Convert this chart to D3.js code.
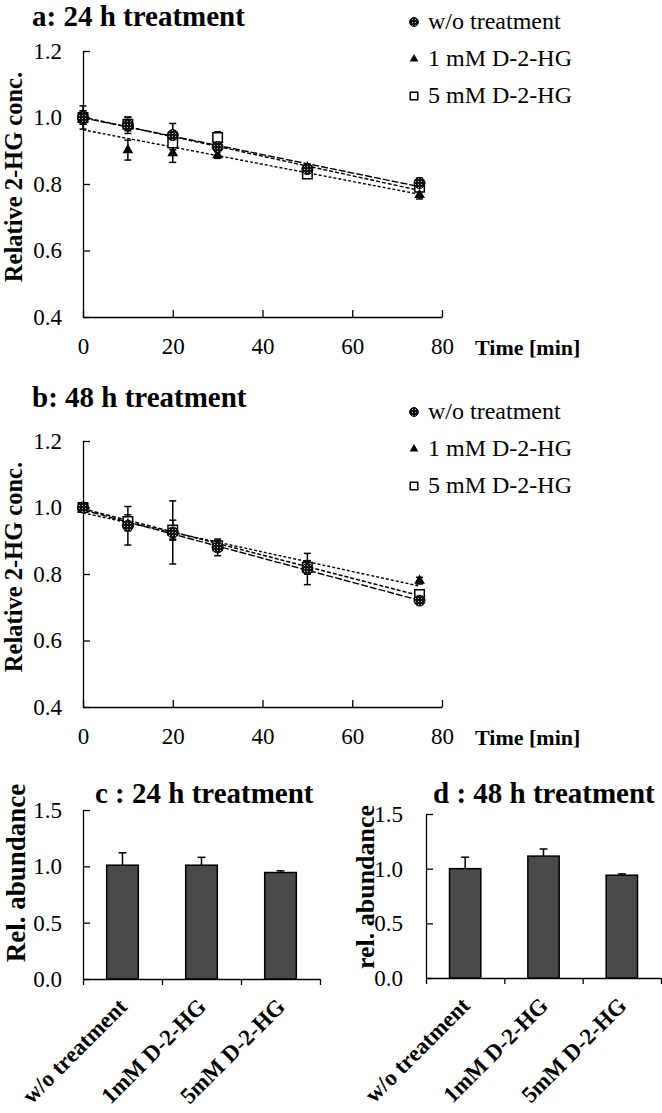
<!DOCTYPE html>
<html>
<head>
<meta charset="utf-8">
<script src="https://cdn.jsdelivr.net/npm/d3@7"></script>
<style>
  body { margin: 0; background: #fff; }
  text { font-family: "Liberation Serif", "Times New Roman", serif; fill: #000; }
</style>
</head>
<body>
<div id="chart"></div>
<script>
// sampling times (min)
const times = [0, 10, 20, 30, 50, 75]
const seriesNames = ['w/o treatment', '1 mM D-2-HG', '5 mM D-2-HG']
const xTicks = [0, 20, 40, 60, 80]
const yTicks = [0.4, 0.6, 0.8, 1.0, 1.2]

// a: 24 h treatment
const aWo = [1.0, 0.977, 0.947, 0.911, 0.845, 0.803]
const aWoErr = [0.035, 0.025, 0.035, 0.01, 0.01, 0.015]
const a1mM = [1.0, 0.902, 0.893, 0.887, 0.85, 0.767]
const a1mMErr = [0.02, 0.03, 0.028, 0.01, 0.01, 0.012]
const a5mM = [1.0, 0.98, 0.923, 0.94, 0.83, 0.79]
const a5mMErr = [0.02, 0.02, 0.02, 0.017, 0.008, 0.012]

// b: 48 h treatment
const bWo = [1.0, 0.945, 0.925, 0.88, 0.815, 0.72]
const bWoErr = [0.01, 0.058, 0.095, 0.025, 0.047, 0.01]
const b1mM = [1.0, 0.95, 0.925, 0.885, 0.82, 0.78]
const b1mMErr = [0.01, 0.02, 0.02, 0.015, 0.02, 0.01]
const b5mM = [1.0, 0.958, 0.932, 0.885, 0.82, 0.738]
const b5mMErr = [0.01, 0.02, 0.03, 0.015, 0.02, 0.01]

// c / d: relative abundance
const barCats = ['w/o treatment', '1mM D-2-HG', '5mM D-2-HG']
const barTicks = [0, 0.5, 1.0, 1.5]
const cVals = [1.01, 1.01, 0.945]
const cErr = [0.11, 0.07, 0.015]
const dVals = [1.0, 1.115, 0.94]
const dErr = [0.105, 0.065, 0.012]

const W = 662, H = 1113
const svg = d3.select('#chart').append('svg').attr('width', W).attr('height', H)

// speckled fill for the untreated marker
const pat = svg.append('defs').append('pattern')
  .attr('id', 'speck').attr('patternUnits', 'userSpaceOnUse')
  .attr('width', 3).attr('height', 3)
pat.append('rect').attr('width', 3).attr('height', 3).attr('fill', '#111')
pat.append('rect').attr('x', 1).attr('y', 1).attr('width', 1).attr('height', 1).attr('fill', '#bbb')

const markers = ['circle', 'triangle', 'square']
const dashes = ['7,2', '3,2', '4,2']

let drawMarker = (g, type, x, y, s)=>{
  if(type === 'circle'){
    g.append('circle').attr('cx', x).attr('cy', y).attr('r', s * 0.55)
      .attr('fill', 'url(#speck)').attr('stroke', '#000').attr('stroke-width', 1)
  } else if(type === 'triangle'){
    g.append('path').attr('d', d3.symbol().type(d3.symbolTriangle).size(s * s * 0.5)())
      .attr('transform', `translate(${x},${y})`).attr('fill', '#000')
  } else {
    g.append('path').attr('d', d3.symbol().type(d3.symbolSquare).size(s * s * 0.9)())
      .attr('transform', `translate(${x},${y})`)
      .attr('fill', '#fff').attr('stroke', '#000').attr('stroke-width', 1.5)
  }
}

let fit = (xs, ys)=>{
  let mx = d3.mean(xs), my = d3.mean(ys)
  let sxy = d3.sum(xs, (d, i)=> (d - mx) * (ys[i] - my))
  let sxx = d3.sum(xs, d=> (d - mx) * (d - mx))
  let slope = sxy / sxx
  return {slope, icpt: my - slope * mx}
}

function linePanel(o){
  let g = svg.append('g')
  let x = d3.scaleLinear().domain([0, 80]).range([83, 442])
  let y = d3.scaleLinear().domain([0.4, 1.2]).range([o.bottom, o.bottom - 266])

  g.append('text').attr('x', 32).attr('y', o.titleY)
    .attr('font-size', 29).attr('font-weight', 'bold').text(o.title)

  g.append('g').attr('transform', `translate(0,${o.bottom})`)
    .call(d3.axisBottom(x).tickValues(xTicks).tickSize(-7).tickSizeOuter(0).tickPadding(21))
    .call(a=> a.selectAll('text').attr('font-size', 23).attr('font-family', null))
  g.append('g').attr('transform', 'translate(83,0)')
    .call(d3.axisLeft(y).tickValues(yTicks).tickFormat(d3.format('.1f')).tickSize(-7).tickSizeOuter(0).tickPadding(21))
    .call(a=> a.selectAll('text').attr('font-size', 23).attr('font-family', null))
  g.selectAll('.domain, .tick line').attr('stroke', '#000').attr('stroke-width', 1.3)

  g.append('text').attr('transform', `translate(22,${y(0.8) - 7}) rotate(-90)`)
    .attr('text-anchor', 'middle').attr('font-size', 24.5).attr('font-weight', 'bold')
    .text('Relative 2-HG conc.')
  g.append('text').attr('x', 475).attr('y', o.bottom + 38)
    .attr('font-size', 22).attr('font-weight', 'bold').text('Time [min]')

  // regression lines
  o.series.forEach((s, k)=>{
    let f = fit(times, s.vals)
    g.append('line')
      .attr('x1', x(0)).attr('y1', y(f.icpt))
      .attr('x2', x(75)).attr('y2', y(f.icpt + f.slope * 75))
      .attr('stroke', '#000').attr('stroke-width', 1.4).attr('stroke-dasharray', dashes[k])
  })
  // error bars
  o.series.forEach(s=>{
    times.forEach((t, i)=>{
      let cx = x(t), y1 = y(s.vals[i] - s.errs[i]), y2 = y(s.vals[i] + s.errs[i])
      g.append('line').attr('x1', cx).attr('x2', cx).attr('y1', y1).attr('y2', y2)
        .attr('stroke', '#000').attr('stroke-width', 1.5)
      ;[y1, y2].forEach(yy=>{
        g.append('line').attr('x1', cx - 3.5).attr('x2', cx + 3.5).attr('y1', yy).attr('y2', yy)
          .attr('stroke', '#000').attr('stroke-width', 1.5)
      })
    })
  })
  // markers, squares first so the others sit on top
  ;[2, 1, 0].forEach(k=>{
    times.forEach((t, i)=> drawMarker(g, markers[k], x(t), y(o.series[k].vals[i]), 10))
  })

  // legend
  seriesNames.forEach((n, k)=>{
    let ly = o.legendY + k * 37
    drawMarker(g, markers[k], 414, ly - 7, 8)
    g.append('text').attr('x', 428).attr('y', ly).attr('font-size', 24).text(n)
  })
}

linePanel({
  title: 'a: 24 h treatment', titleY: 26, bottom: 317, legendY: 29,
  series: [{vals: aWo, errs: aWoErr}, {vals: a1mM, errs: a1mMErr}, {vals: a5mM, errs: a5mMErr}]
})
linePanel({
  title: 'b: 48 h treatment', titleY: 407, bottom: 707, legendY: 419,
  series: [{vals: bWo, errs: bWoErr}, {vals: b1mM, errs: b1mMErr}, {vals: b5mM, errs: b5mMErr}]
})

function barPanel(o){
  let g = svg.append('g')
  let xb = d3.scaleBand().domain(barCats).range([o.left, o.right]).paddingInner(0.6).paddingOuter(0.3)
  let xe = d3.scaleLinear().domain([0, barCats.length]).range([o.left, o.right])
  let y = d3.scaleLinear().domain([0, 1.5]).range([o.bottom, o.top])

  g.append('text').attr('x', o.titleX).attr('y', 803)
    .attr('font-size', 29).attr('font-weight', 'bold').text(o.title)

  g.append('g').attr('transform', `translate(0,${o.bottom})`)
    .call(d3.axisBottom(xe).tickValues(d3.range(barCats.length + 1)).tickFormat('').tickSize(6).tickSizeOuter(0))
  g.append('g').attr('transform', `translate(${o.left},0)`)
    .call(d3.axisLeft(y).tickValues(barTicks).tickFormat(d3.format('.1f')).tickSize(-7).tickSizeOuter(0).tickPadding(o.pad))
    .call(a=> a.selectAll('text').attr('font-size', 23).attr('font-family', null))
  g.selectAll('.domain, .tick line').attr('stroke', '#000').attr('stroke-width', 1.3)

  g.append('text').attr('transform', `translate(${o.labelX},${o.labelY}) rotate(-90)`)
    .attr('text-anchor', 'middle').attr('font-size', o.labelSize).attr('font-weight', 'bold')
    .text(o.label)

  g.selectAll('rect.bar').data(o.vals).enter().append('rect').attr('class', 'bar')
    .attr('x', (d, i)=> xb(barCats[i]))
    .attr('y', d=> y(d))
    .attr('width', xb.bandwidth())
    .attr('height', d=> o.bottom - y(d))
    .attr('fill', '#4a4a4a').attr('stroke', '#000').attr('stroke-width', 1.5)

  o.vals.forEach((v, i)=>{
    let cx = xb(barCats[i]) + xb.bandwidth() / 2
    g.append('line').attr('x1', cx).attr('x2', cx).attr('y1', y(v)).attr('y2', y(v + o.errs[i]))
      .attr('stroke', '#000').attr('stroke-width', 1.5)
    g.append('line').attr('x1', cx - 4).attr('x2', cx + 4).attr('y1', y(v + o.errs[i])).attr('y2', y(v + o.errs[i]))
      .attr('stroke', '#000').attr('stroke-width', 1.5)
    g.append('text')
      .attr('transform', `translate(${cx + 6},${o.bottom + 29}) rotate(-45)`)
      .attr('text-anchor', 'end').attr('font-size', 23).attr('font-weight', 'bold')
      .text(barCats[i])
  })
}

barPanel({
  title: 'c : 24 h treatment', titleX: 95, left: 83, right: 320, top: 810, bottom: 979, pad: 21,
  label: 'Rel. abundance', labelX: 25, labelY: 873, labelSize: 27, vals: cVals, errs: cErr
})
barPanel({
  title: 'd : 48 h treatment', titleX: 433, left: 426, right: 661, top: 814, bottom: 978, pad: 23,
  label: 'rel. abundance', labelX: 374, labelY: 887, labelSize: 26, vals: dVals, errs: dErr
})
</script>
</body>
</html>
